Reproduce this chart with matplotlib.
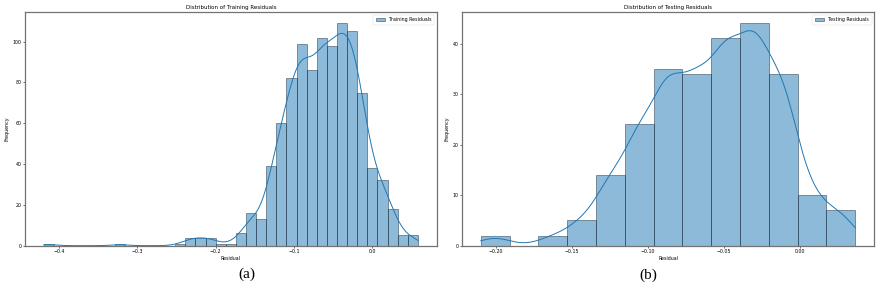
import matplotlib
matplotlib.use("Agg")
import matplotlib.pyplot as plt
import numpy as np

# Histogram counts (bins span the data range)
train_lo, train_hi = -0.4196, 0.0582
train_counts = [1, 0, 0, 0, 0, 0, 0, 1, 0, 0, 0, 0, 0, 1, 4, 4, 4, 1, 1, 6,
                16, 13, 39, 60, 82, 99, 86, 102, 98, 109, 105, 75, 38, 32, 18, 5, 5]

test_lo, test_hi = -0.2098, 0.0361
test_counts = [2, 0, 2, 5, 14, 24, 35, 34, 41, 44, 34, 10, 7]

train_xticks = [-0.4, -0.3, -0.2, -0.1, 0.0]
test_xticks = [-0.20, -0.15, -0.10, -0.05, 0.00]
train_yticks = [0, 20, 40, 60, 80, 100]
test_yticks = [0, 10, 20, 30, 40]

BLUE = "#1f77b4"
FS = 3.4


def kde_curve(edges, counts, bw_adjust=1.0, npts=200):
    """Gaussian KDE (Scott's rule) from binned counts, scaled to count units."""
    counts = np.asarray(counts, float)
    centers = 0.5 * (edges[:-1] + edges[1:])
    n = counts.sum()
    mean = np.sum(centers * counts) / n
    std = np.sqrt(np.sum(counts * (centers - mean) ** 2) / (n - 1))
    bw = std * n ** (-1 / 5) * bw_adjust
    xs = np.linspace(edges[0], edges[-1], npts)
    dens = np.zeros_like(xs)
    for c, w in zip(centers, counts):
        dens += w * np.exp(-0.5 * ((xs - c) / bw) ** 2)
    dens /= n * bw * np.sqrt(2 * np.pi)
    binw = edges[1] - edges[0]
    return xs, dens * n * binw


def draw_panel(ax, lo, hi, counts, label, title, xticks, yticks, fmt, bw_adjust):
    edges = np.linspace(lo, hi, len(counts) + 1)
    width = edges[1] - edges[0]
    ax.bar(edges[:-1], counts, width=width, align="edge", color=BLUE, alpha=0.5,
           edgecolor="#0a1a2a", linewidth=0.6, label=label)
    xs, ys = kde_curve(edges, counts, bw_adjust)
    ax.plot(xs, ys, color=BLUE, linewidth=0.7)

    ax.margins(x=0.05)
    ax.set_ylim(0, max(counts) * 1.05)
    ax.set_xticks(xticks)
    ax.set_xticklabels([fmt.format(t).replace("-", "\u2212") for t in xticks])
    ax.set_yticks(yticks)
    ax.tick_params(labelsize=FS, length=1.5, width=0.4, pad=1)
    ax.set_title(title, fontsize=FS + 0.6, pad=2.5)
    ax.set_xlabel("Residual", fontsize=FS, labelpad=1.5)
    ax.set_ylabel("Frequency", fontsize=FS, labelpad=2)
    for sp in ax.spines.values():
        sp.set_linewidth(0.9)
        sp.set_color("0.45")
    leg = ax.legend(loc="upper right", fontsize=FS, frameon=True,
                    handlelength=2, borderpad=0.6)
    leg.get_frame().set_linewidth(0.3)


fig = plt.figure(figsize=(8.77, 2.84), dpi=100)
ax1 = fig.add_axes([0.0285, 0.135, 0.4694, 0.822])
ax2 = fig.add_axes([0.5268, 0.135, 0.4698, 0.822])

draw_panel(ax1, train_lo, train_hi, train_counts, "Training Residuals",
           "Distribution of Training Residuals", train_xticks, train_yticks, "{:.1f}", 0.9)
draw_panel(ax2, test_lo, test_hi, test_counts, "Testing Residuals",
           "Distribution of Testing Residuals", test_xticks, test_yticks, "{:.2f}", 0.75)

fig.text(246.7 / 877, 1 - 274 / 284, "(a)", ha="center", va="center",
         fontsize=11, family="Liberation Serif")
fig.text(648.7 / 877, 1 - 275 / 284, "(b)", ha="center", va="center",
         fontsize=11, family="Liberation Serif")

fig.savefig("out.png", dpi=100)
